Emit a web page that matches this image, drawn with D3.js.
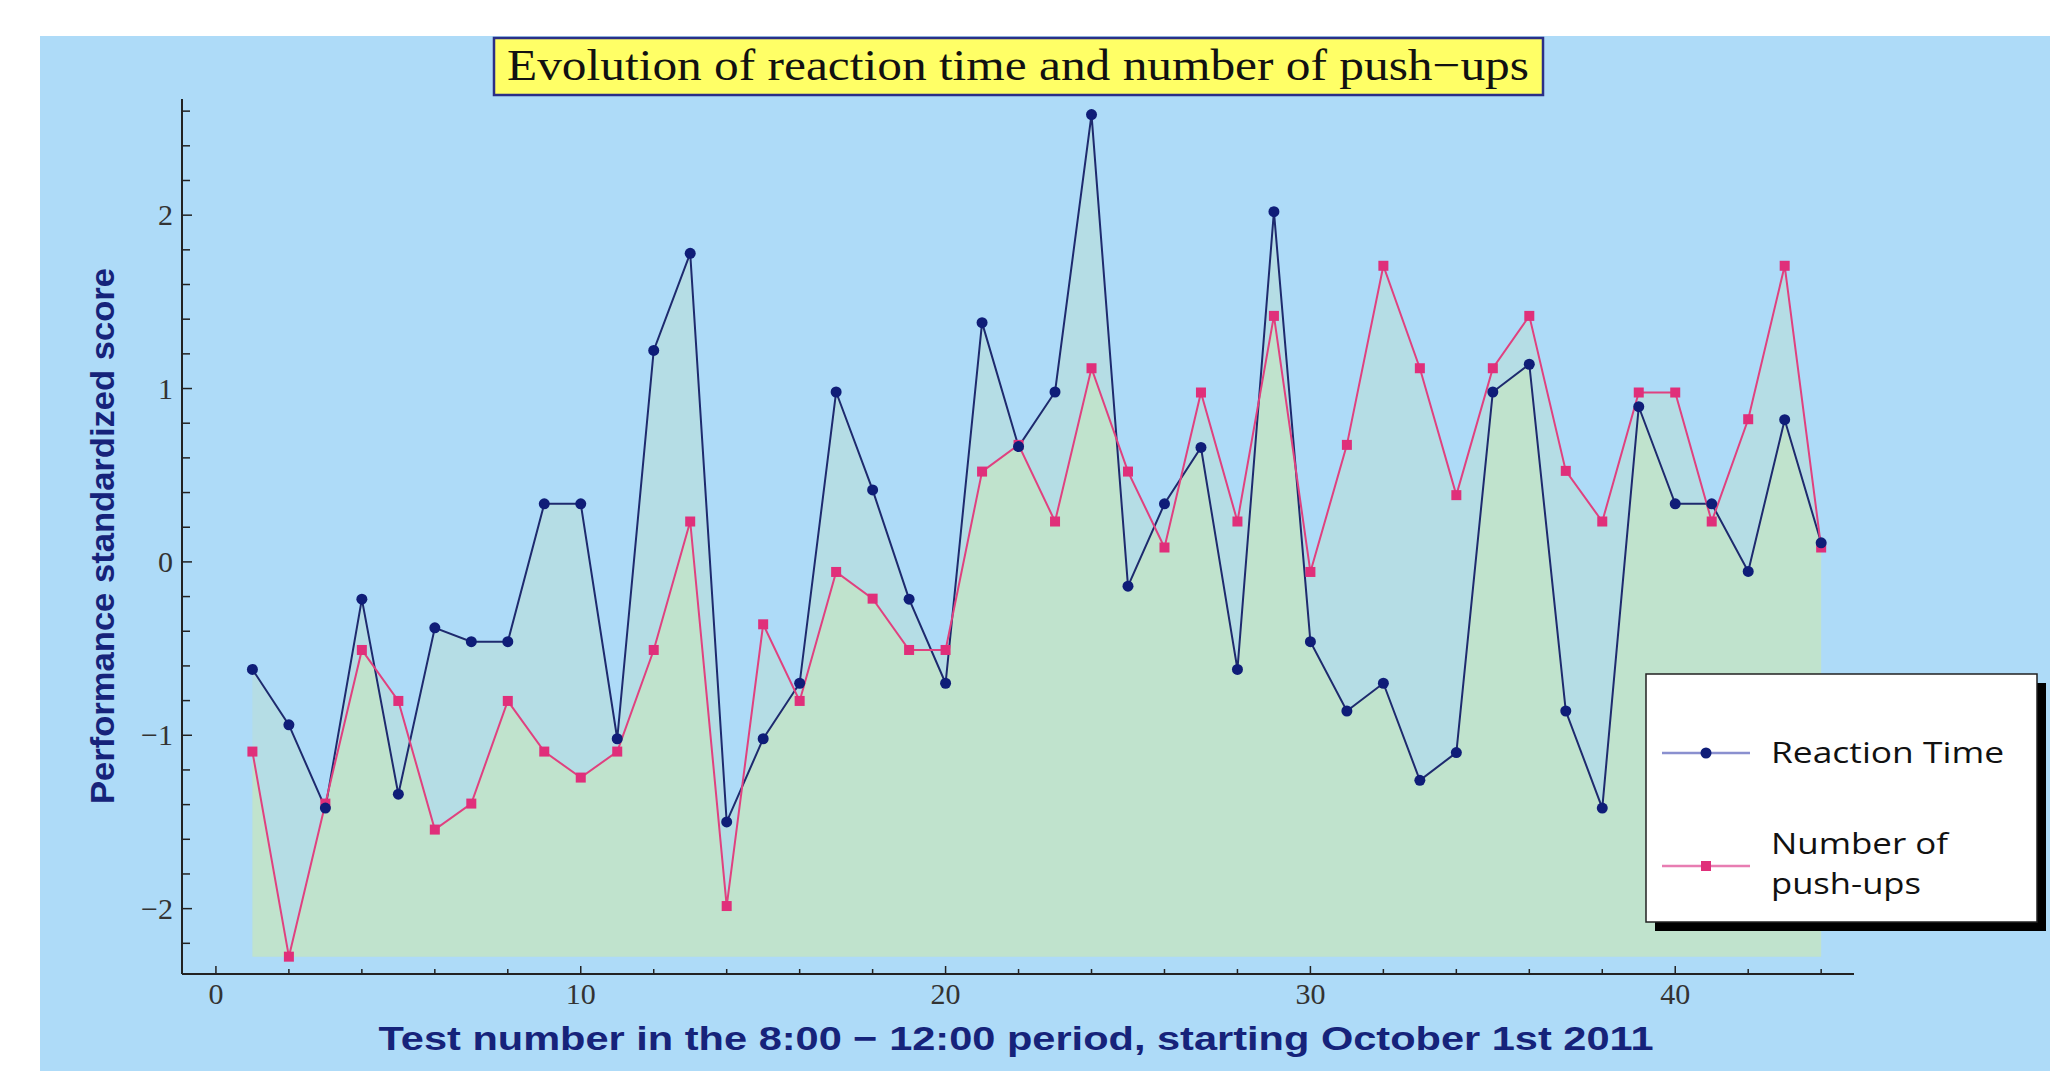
<!DOCTYPE html>
<html>
<head>
<meta charset="utf-8">
<script src="https://cdn.jsdelivr.net/npm/d3@7"></script>
<style>
  body { margin: 0; background: #fff; }
  svg { display: block; }
</style>
</head>
<body>
<script>
// test numbers 1..44
var tests = d3.range(1, 45);

// reaction time, standardized
var reactionTime = [-0.62, -0.94, -1.42, -0.215, -1.34, -0.38, -0.46, -0.46, 0.335, 0.335,
  -1.02, 1.22, 1.78, -1.50, -1.02, -0.70, 0.98, 0.415, -0.215, -0.70,
  1.38, 0.665, 0.98, 2.58, -0.14, 0.335, 0.66, -0.62, 2.02, -0.46,
  -0.86, -0.70, -1.26, -1.10, 0.98, 1.14, -0.86, -1.42, 0.895, 0.335,
  0.335, -0.055, 0.82, 0.11];

// number of push-ups, standardized
var pushUps = [-1.094, -2.277, -1.394, -0.508, -0.802, -1.544, -1.394, -0.802, -1.094, -1.244,
  -1.094, -0.508, 0.233, -1.985, -0.36, -0.802, -0.058, -0.212, -0.508, -0.508,
  0.521, 0.675, 0.233, 1.117, 0.521, 0.083, 0.977, 0.233, 1.419, -0.058,
  0.675, 1.708, 1.117, 0.385, 1.117, 1.419, 0.525, 0.233, 0.977, 0.977,
  0.233, 0.823, 1.708, 0.083];

var xTicks = [0, 10, 20, 30, 40];
var yTicks = [-2, -1, 0, 1, 2];

var titleText = "Evolution of reaction time and number of push\u2212ups";
var xLabel = "Test number in the 8:00 \u2212 12:00 period, starting October 1st 2011";
var yLabel = "Performance standardized score";

var width = 2050, height = 1071;
var navy = "#16237a";

const svg = d3.select("body").append("svg").attr("width", width).attr("height", height);

// blue panel
svg.append("rect").attr("x", 40).attr("y", 36).attr("width", width - 40).attr("height", height - 36)
  .attr("fill", "#aedbf8");

const x = d3.scaleLinear().domain([-0.93, 44.9]).range([182, 1854]);
const y = d3.scaleLinear().domain([-2.377, 2.67]).range([974, 99]);

var rt = tests.map((t, i) => ({t: t, v: reactionTime[i]}));
var pu = tests.map((t, i) => ({t: t, v: pushUps[i]}));
var base = d3.min(reactionTime.concat(pushUps));

var area = d3.area().x(d => x(d.t)).y0(y(base)).y1(d => y(d.v));
var line = d3.line().x(d => x(d.t)).y(d => y(d.v));

// fills: teal where only one covers, green where both do
svg.append("clipPath").attr("id", "rtclip").append("path").attr("d", area(rt));
svg.append("path").attr("d", area(rt)).attr("fill", "#b5dde5");
svg.append("path").attr("d", area(pu)).attr("fill", "#b5dde5");
svg.append("path").attr("d", area(pu)).attr("fill", "#c0e3cd").attr("clip-path", "url(#rtclip)");

// axes
const gx = svg.append("g").attr("transform", "translate(0," + y.range()[0] + ")");
gx.append("line").attr("x1", x.range()[0]).attr("x2", x.range()[1]).attr("stroke", "#222").attr("stroke-width", 2);
gx.selectAll(".minor").data(d3.range(0, 45, 2)).enter().append("line")
  .attr("x1", d => x(d)).attr("x2", d => x(d)).attr("y1", 0)
  .attr("y2", d => xTicks.includes(d) ? -8 : -5).attr("stroke", "#222").attr("stroke-width", 1.5);
gx.selectAll("text").data(xTicks).enter().append("text")
  .attr("x", d => x(d)).attr("y", 30).attr("text-anchor", "middle")
  .attr("font-family", "Liberation Serif").attr("font-size", 30).attr("fill", "#333")
  .text(d => d);

const gy = svg.append("g").attr("transform", "translate(" + x.range()[0] + ",0)");
gy.append("line").attr("y1", y.range()[0]).attr("y2", y.range()[1]).attr("stroke", "#222").attr("stroke-width", 2);
gy.selectAll(".minor").data(d3.range(-2.2, 2.61, 0.2)).enter().append("line")
  .attr("y1", d => y(d)).attr("y2", d => y(d)).attr("x1", 0)
  .attr("x2", d => Math.abs(d - Math.round(d)) < 0.01 ? 10 : 8).attr("stroke", "#222").attr("stroke-width", 1.5);
gy.selectAll("text").data(yTicks).enter().append("text")
  .attr("x", -9).attr("y", d => y(d) + 10).attr("text-anchor", "end")
  .attr("font-family", "Liberation Serif").attr("font-size", 30).attr("fill", "#333")
  .text(d => d < 0 ? "\u2212" + Math.abs(d) : d);

// lines + markers
svg.append("path").attr("d", line(rt)).attr("fill", "none").attr("stroke", "#1e2a6e").attr("stroke-width", 2);
svg.append("path").attr("d", line(pu)).attr("fill", "none").attr("stroke", "#e0417f").attr("stroke-width", 2);

svg.selectAll(".pt-pu").data(pu).enter().append("rect")
  .attr("x", d => x(d.t) - 5).attr("y", d => y(d.v) - 5).attr("width", 10).attr("height", 10)
  .attr("fill", "#e02f7a");
svg.selectAll(".pt-rt").data(rt).enter().append("circle")
  .attr("cx", d => x(d.t)).attr("cy", d => y(d.v)).attr("r", 5.5)
  .attr("fill", "#0f1d78");

// title
svg.append("rect").attr("x", 494).attr("y", 38).attr("width", 1049).attr("height", 57)
  .attr("fill", "#ffff66").attr("stroke", "#2b2f86").attr("stroke-width", 2.5);
svg.append("text").attr("x", 507).attr("y", 80)
  .attr("font-family", "Liberation Serif").attr("font-size", 45).attr("fill", "#111")
  .attr("textLength", 1022).attr("lengthAdjust", "spacingAndGlyphs")
  .text(titleText);

// axis labels
svg.append("text").attr("x", 1016).attr("y", 1050).attr("text-anchor", "middle")
  .attr("font-family", "Liberation Sans").attr("font-weight", "bold").attr("font-size", 34)
  .attr("fill", navy).attr("textLength", 1275).attr("lengthAdjust", "spacingAndGlyphs")
  .text(xLabel);
svg.append("text").attr("transform", "translate(114,536) rotate(-90)").attr("text-anchor", "middle")
  .attr("font-family", "Liberation Sans").attr("font-weight", "bold").attr("font-size", 33)
  .attr("fill", navy).attr("textLength", 536).attr("lengthAdjust", "spacingAndGlyphs")
  .text(yLabel);

// legend
const lg = svg.append("g");
lg.append("rect").attr("x", 1655).attr("y", 683).attr("width", 391).attr("height", 248).attr("fill", "#000");
lg.append("rect").attr("x", 1646).attr("y", 674).attr("width", 391).attr("height", 248)
  .attr("fill", "#fff").attr("stroke", "#222").attr("stroke-width", 1.5);

var legendItems = [
  {lines: ["Reaction Time"], ly: 753, ty: [763], len: [233], stroke: "#8a90cf", mark: "circle", color: "#0f1d78"},
  {lines: ["Number of", "push-ups"], ly: 866, ty: [854, 894], len: [177, 150], stroke: "#e87db2", mark: "rect", color: "#e02f7a"}
];
legendItems.forEach(it => {
  lg.append("line").attr("x1", 1662).attr("x2", 1750).attr("y1", it.ly).attr("y2", it.ly)
    .attr("stroke", it.stroke).attr("stroke-width", 2.5);
  if (it.mark === "circle") {
    lg.append("circle").attr("cx", 1706).attr("cy", it.ly).attr("r", 5.5).attr("fill", it.color);
  } else {
    lg.append("rect").attr("x", 1701).attr("y", it.ly - 5).attr("width", 10).attr("height", 10).attr("fill", it.color);
  }
  it.lines.forEach((s, k) => {
    lg.append("text").attr("x", 1771).attr("y", it.ty[k])
      .attr("font-family", "Open Sans").attr("font-size", 30).attr("fill", "#111")
      .attr("textLength", it.len[k]).attr("lengthAdjust", "spacingAndGlyphs")
      .text(s);
  });
});
</script>
</body>
</html>
